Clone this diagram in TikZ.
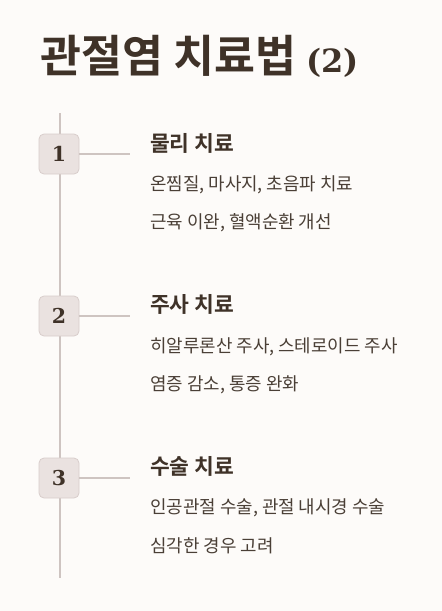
\documentclass[tikz,border=0pt]{standalone}
\usepackage{fontspec}
\usepackage{tikz}
\usetikzlibrary{positioning}
\newfontfamily\kr[BoldFont={Noto Sans CJK KR Bold}]{Noto Sans CJK KR}
\newfontfamily\numfont{DejaVu Serif}
\definecolor{pagebg}{HTML}{FDFBF9}
\definecolor{inkbrown}{HTML}{3F3228}
\definecolor{textbrown}{HTML}{4A3F36}
\definecolor{railgrey}{HTML}{CEC4C1}
\definecolor{badgefill}{HTML}{EAE2E0}
\definecolor{badgeline}{HTML}{D8CDCB}
\tikzset{
  badge/.style={draw=badgeline, fill=badgefill, rounded corners=5pt, minimum width=40pt, minimum height=40pt, inner sep=0pt, line width=0.8pt, text=inkbrown, font=\numfont\bfseries\fontsize{20.5}{24}\selectfont},
  heading/.style={anchor=west, inner sep=0pt, text=inkbrown, font=\kr\bfseries\fontsize{21.5}{25}\selectfont},
  detail/.style={anchor=west, inner sep=0pt, text=textbrown, font=\kr\fontsize{17.9}{21}\selectfont},
  rail/.style={draw=railgrey, line width=1.5pt},
  tick/.style={draw=railgrey, line width=1.5pt}
}
\begin{document}
\begin{tikzpicture}[x=1pt, y=-1pt]
  \fill[pagebg] (0,0) rectangle (442,611);
  \useasboundingbox (0,0) rectangle (442,611);

  \node[anchor=west, inner sep=0pt, text=inkbrown] (title) at (40,56)
    {{\kr\bfseries\fontsize{44.5}{52}\selectfont 관절염 치료법 }{\numfont\bfseries\fontsize{32}{38}\selectfont (2)}};

  % timeline
  \coordinate (railtop) at (60,113);
  \coordinate (railend) at (60,578);
  \draw[rail] (railtop) -- (railend);

  % item 1
  \node[badge] (n1) at (59,154) {1};
  \node[heading] (h1) at (150,143) {물리 치료};
  \node[detail] (d1a) at (150,184.5) {온찜질, 마사지, 초음파 치료};
  \node[detail] (d1b) at (150,222.5) {근육 이완, 혈액순환 개선};
  \coordinate (t1) at (130,154);
  \draw[tick] (n1.east) -- (t1);

  % item 2
  \node[badge] (n2) at (59,316) {2};
  \node[heading] (h2) at (150,304) {주사 치료};
  \node[detail] (d2a) at (150,346.5) {히알루론산 주사, 스테로이드 주사};
  \node[detail] (d2b) at (150,384.5) {염증 감소, 통증 완화};
  \coordinate (t2) at (130,316);
  \draw[tick] (n2.east) -- (t2);

  % item 3
  \node[badge] (n3) at (59,478) {3};
  \node[heading] (h3) at (150,466) {수술 치료};
  \node[detail] (d3a) at (150,508) {인공관절 수술, 관절 내시경 수술};
  \node[detail] (d3b) at (150,546) {심각한 경우 고려};
  \coordinate (t3) at (130,478);
  \draw[tick] (n3.east) -- (t3);
\end{tikzpicture}
\end{document}
